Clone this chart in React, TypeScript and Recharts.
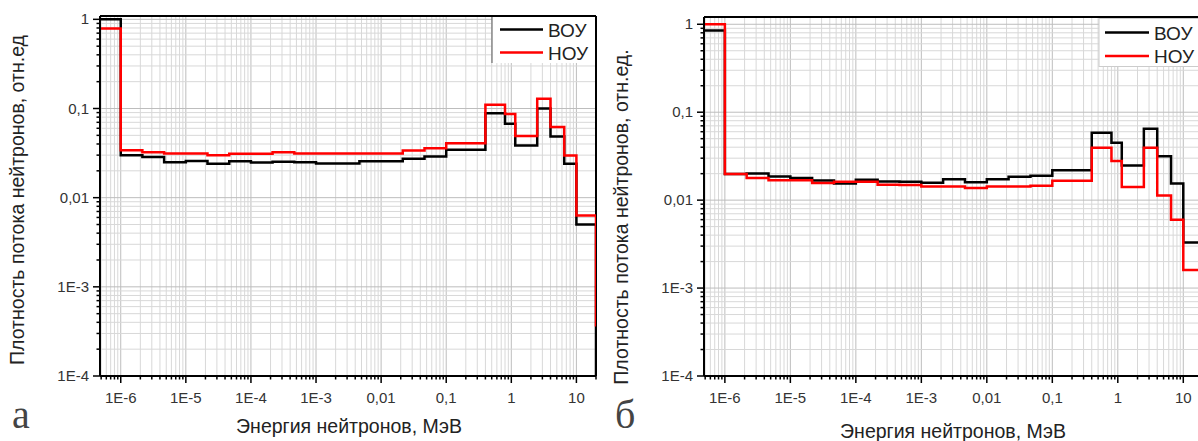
import React from 'react'
import { LineChart, Line, XAxis, YAxis, ReferenceLine } from 'recharts'

// границы энергетических групп, МэВ (последняя точка – конец спектра)
const energyEdges = [4.8e-7, 1e-6, 2.15e-6, 4.64e-6, 1e-5, 2.15e-5, 4.64e-5, 1e-4, 2.15e-4, 4.64e-4, 1e-3, 2.15e-3, 4.64e-3, 1e-2, 2.15e-2, 4.64e-2, 0.1, 0.4, 0.8, 1.15, 2.5, 4, 6.5, 10, 20]

// панель а
const bouA = [1.0, 0.030, 0.0285, 0.025, 0.0258, 0.024, 0.0256, 0.0248, 0.0253, 0.025, 0.0242, 0.0242, 0.0256, 0.0256, 0.0273, 0.029, 0.0344, 0.0886, 0.0673, 0.0384, 0.0997, 0.0485, 0.024, 0.005, 0.00005]
const nouA = [0.79, 0.034, 0.0323, 0.0313, 0.0313, 0.030, 0.031, 0.031, 0.0323, 0.0313, 0.0313, 0.0313, 0.0313, 0.0313, 0.0338, 0.0359, 0.0408, 0.110, 0.087, 0.0493, 0.129, 0.0622, 0.0297, 0.0063, 0.00036]

// панель б
const bouB = [0.85, 0.0198, 0.0201, 0.0186, 0.0178, 0.0167, 0.0155, 0.0171, 0.0163, 0.0162, 0.0158, 0.0173, 0.016, 0.0173, 0.0185, 0.019, 0.0219, 0.0585, 0.0448, 0.0247, 0.0649, 0.0315, 0.0155, 0.0033, 0.0033]
const nouB = [1.0, 0.0198, 0.0178, 0.0168, 0.0168, 0.0157, 0.0162, 0.0162, 0.0150, 0.0149, 0.0143, 0.0143, 0.0137, 0.0143, 0.0143, 0.0146, 0.0166, 0.0394, 0.0279, 0.0141, 0.0394, 0.0113, 0.0060, 0.0016, 0.0016]

const xMajorTicks = [1e-6, 1e-5, 1e-4, 1e-3, 0.01, 0.1, 1, 10]
const xMajorLabels = ['1E-6', '1E-5', '1E-4', '1E-3', '0,01', '0,1', '1', '10']
const yMajorTicks = [1e-4, 1e-3, 0.01, 0.1, 1]
const yMajorLabels = ['1E-4', '1E-3', '0,01', '0,1', '1']

const X_MIN = 4.8e-7
const X_MAX = 20
const Y_MIN = 1e-4

const FONT = 'Liberation Sans, Arial, sans-serif'
const SERIF = 'Liberation Serif, Times New Roman, serif'

const withMinor = (majors: number[], lo: number, hi: number) => {
  const out: number[] = []
  const decades = [majors[0] / 10, ...majors]
  decades.forEach(d => {
    for (let m = 1; m < 10; m++) {
      const v = +(m * d).toPrecision(3)
      if (v >= lo && v <= hi) out.push(v)
    }
  })
  return out
}

const toRows = (bou: number[], nou: number[]) =>
  energyEdges.map((e, i) => ({ e, bou: bou[i], nou: nou[i] }))

const XTick = (props: any) => {
  const { x, y, payload } = props
  const i = xMajorTicks.indexOf(payload.value)
  return (
    <g>
      <line x1={x} x2={x} y1={y} y2={y + (i >= 0 ? 7 : 3.5)} stroke="#000" strokeWidth={1.5} />
      {i >= 0 && (
        <text x={x} y={y + 27} textAnchor="middle" fontSize={15} fill="#333" fontFamily={FONT}>
          {xMajorLabels[i]}
        </text>
      )}
    </g>
  )
}

const YTick = (props: any) => {
  const { x, y, payload } = props
  const i = yMajorTicks.indexOf(payload.value)
  return (
    <g>
      <line x1={x} x2={x - (i >= 0 ? 7 : 3.5)} y1={y} y2={y} stroke="#000" strokeWidth={1.5} />
      {i >= 0 && (
        <text x={x - 11} y={y + 5} textAnchor="end" fontSize={15} fill="#333" fontFamily={FONT}>
          {yMajorLabels[i]}
        </text>
      )}
    </g>
  )
}

interface PanelProps {
  bou: number[]
  nou: number[]
  yMax: number
  top: number
  width: number
  right: number
}

function SpectrumPanel({ bou, nou, yMax, top, width, right }: PanelProps) {
  const data = toRows(bou, nou)
  const xTicks = withMinor(xMajorTicks, X_MIN, X_MAX)
  const yTicks = withMinor(yMajorTicks, Y_MIN, yMax)

  return (
    <LineChart width={width} height={441} data={data} margin={{ top, right, bottom: 0, left: 0 }}>
      {xTicks.map(v => (
        <ReferenceLine key={'gx' + v} x={v} stroke={xMajorTicks.includes(v) ? '#bdbdbd' : '#d8d8d8'} strokeWidth={1} />
      ))}
      {yTicks.map(v => (
        <ReferenceLine key={'gy' + v} y={v} stroke={yMajorTicks.includes(v) ? '#bdbdbd' : '#d8d8d8'} strokeWidth={1} />
      ))}
      <ReferenceLine y={yMax} stroke="#000" strokeWidth={2} />
      <ReferenceLine x={X_MAX} stroke="#000" strokeWidth={2} />
      <XAxis
        dataKey="e"
        type="number"
        scale="log"
        domain={[X_MIN, X_MAX]}
        allowDataOverflow
        ticks={xTicks}
        interval={0}
        tick={<XTick />}
        tickLine={false}
        tickSize={0}
        tickMargin={0}
        height={65}
        axisLine={{ stroke: '#000', strokeWidth: 2 }}
      />
      <YAxis
        type="number"
        scale="log"
        domain={[Y_MIN, yMax]}
        allowDataOverflow
        ticks={yTicks}
        interval={0}
        tick={<YTick />}
        tickLine={false}
        tickSize={0}
        tickMargin={0}
        width={100}
        axisLine={{ stroke: '#000', strokeWidth: 2 }}
      />
      <Line type="stepAfter" dataKey="bou" stroke="#000" strokeWidth={2.5} dot={false} isAnimationActive={false} />
      <Line type="stepAfter" dataKey="nou" stroke="#ff0000" strokeWidth={2.5} dot={false} isAnimationActive={false} />
    </LineChart>
  )
}

export default function App() {
  return (
    <div style={{ position: 'fixed', left: 0, top: 0, width: 1198, height: 441, overflow: 'hidden', background: '#fff' }}>
      <div style={{ position: 'absolute', left: 0, top: 0 }}>
        <SpectrumPanel bou={bouA} nou={nouA} yMax={1.09} top={16} width={600} right={4} />
      </div>
      <div style={{ position: 'absolute', left: 604, top: 0 }}>
        <SpectrumPanel bou={bouB} nou={nouB} yMax={1.21} top={17} width={600} right={1} />
      </div>
      <svg width={1198} height={441} style={{ position: 'absolute', left: 0, top: 0, pointerEvents: 'none' }}>
        {/* легенда а */}
        <rect x={492} y={17} width={103} height={46} fill="#fff" />
        <line x1={492} x2={492} y1={17} y2={63} stroke="#555" strokeWidth={1} />
        <line x1={500} x2={543} y1={29.5} y2={29.5} stroke="#000" strokeWidth={2.5} />
        <line x1={500} x2={543} y1={52.5} y2={52.5} stroke="#ff0000" strokeWidth={2.5} />
        <text x={548} y={36.5} fontSize={19} fill="#222" fontFamily={FONT}>ВОУ</text>
        <text x={548} y={59.5} fontSize={19} fill="#222" fontFamily={FONT}>НОУ</text>

        {/* легенда б */}
        <rect x={1099} y={18.5} width={110} height={48} fill="#fff" stroke="#ccc" strokeWidth={1} />
        <line x1={1105} x2={1149} y1={32.5} y2={32.5} stroke="#000" strokeWidth={2.5} />
        <line x1={1105} x2={1149} y1={56} y2={56} stroke="#ff0000" strokeWidth={2.5} />
        <text x={1154} y={39.5} fontSize={19} fill="#222" fontFamily={FONT}>ВОУ</text>
        <text x={1154} y={63} fontSize={19} fill="#222" fontFamily={FONT}>НОУ</text>

        {/* подписи осей */}
        <text x={349} y={433} fontSize={19.5} fill="#222" textAnchor="middle" fontFamily={FONT}>Энергия нейтронов, МэВ</text>
        <text transform="translate(24,200) rotate(-90)" fontSize={19.5} fill="#222" textAnchor="middle" fontFamily={FONT}>
          Плотность потока нейтронов, отн.ед
        </text>
        <text x={953} y={438} fontSize={19.5} fill="#222" textAnchor="middle" fontFamily={FONT}>Энергия нейтронов, МэВ</text>
        <text transform="translate(628,217) rotate(-90)" fontSize={19.5} fill="#222" textAnchor="middle" fontFamily={FONT}>
          Плотность потока нейтронов, отн.ед.
        </text>

        {/* буквы панелей */}
        <text x={12} y={428} fontSize={40} fill="#444" fontFamily={SERIF}>а</text>
        <text x={615} y={428} fontSize={40} fill="#444" fontFamily={SERIF}>б</text>
      </svg>
    </div>
  )
}
